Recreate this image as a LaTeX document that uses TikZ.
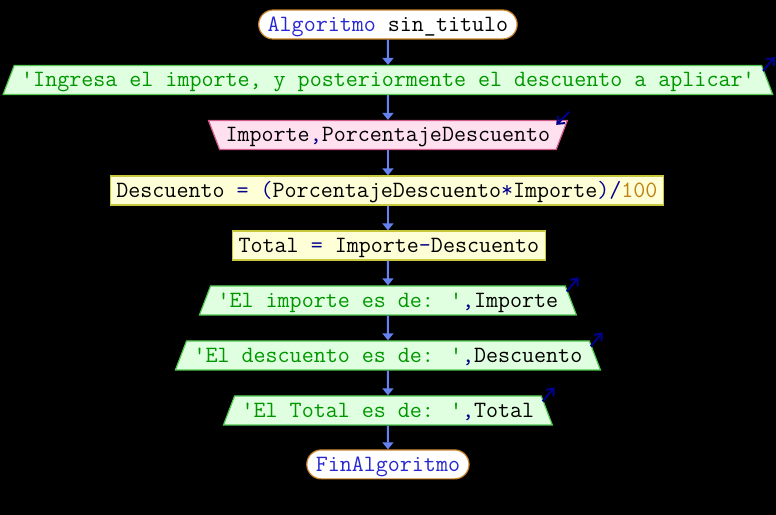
\documentclass[tikz,border=0pt]{standalone}
\usetikzlibrary{shapes.geometric,arrows.meta}
\definecolor{conblue}{RGB}{100,130,240}
\definecolor{termline}{RGB}{200,130,40}
\definecolor{kwblue}{RGB}{40,40,210}
\definecolor{opnavy}{RGB}{0,0,140}
\definecolor{outfill}{RGB}{224,255,224}
\definecolor{outline}{RGB}{80,200,80}
\definecolor{strgreen}{RGB}{0,150,0}
\definecolor{infill}{RGB}{255,224,238}
\definecolor{inline}{RGB}{210,90,140}
\definecolor{procfill}{RGB}{255,255,215}
\definecolor{procline}{RGB}{200,200,60}
\definecolor{numbrown}{RGB}{190,130,20}
\def\clave#1{\textcolor{kwblue}{#1}}
\def\oper#1{\textcolor{opnavy}{#1}}
\def\cadena#1{\textcolor{strgreen}{\textquotesingle #1\textquotesingle}}
\def\numero#1{\textcolor{numbrown}{#1}}
\tikzset{
  caja/.style={inner ysep=4pt, text height=17.5pt, text depth=3.5pt, line width=1.2pt},
  terminal/.style={caja, rectangle, rounded corners=14.5pt, draw=termline, fill=white, inner xsep=9pt},
  salida/.style={caja, trapezium, trapezium left angle=69, trapezium right angle=69, draw=outline, fill=outfill, inner xsep=7pt},
  entrada/.style={caja, trapezium, trapezium left angle=111, trapezium right angle=111, draw=inline, fill=infill, inner xsep=6pt},
  proceso/.style={caja, rectangle, draw=procline, fill=procfill, inner xsep=6pt},
  flecha/.style={draw=conblue, line width=2pt, -{Triangle[length=7pt,width=11pt]}},
  icono/.style={draw=opnavy, line width=2pt, -{Straight Barb[length=6pt,width=10pt]}}
}
\begin{document}
\begin{tikzpicture}[x=1pt, y=1pt, font=\fontsize{23.35}{27}\selectfont\ttfamily]
  \fill[black] (0,0) rectangle (776,-515);

  \node[terminal] (inicio) at (388,-24.5) {\clave{Algoritmo} sin\_titulo};
  \node[salida] (msg) at (388,-80) {\cadena{Ingresa el importe, y posteriormente el descuento a aplicar}};
  \node[entrada] (leer) at (388,-135) {Importe\oper{,}PorcentajeDescuento};
  \node[proceso] (calc) at (387,-190.5) {Descuento \oper{=} \oper{(}PorcentajeDescuento\oper{*}Importe\oper{)/}\numero{100}};
  \node[proceso] (total) at (389,-245.5) {Total \oper{=} Importe\oper{-}Descuento};
  \node[salida] (verimp) at (388,-300.5) {\cadena{El importe es de: }\oper{,}Importe};
  \node[salida] (verdes) at (388,-355.5) {\cadena{El descuento es de: }\oper{,}Descuento};
  \node[salida] (vertot) at (388,-410.5) {\cadena{El Total es de: }\oper{,}Total};
  \node[terminal] (fin) at (388,-464.5) {\clave{FinAlgoritmo}};

  % conectores
  \draw[flecha] (inicio.south) -- (msg.north);
  \draw[flecha] (msg.south) -- (leer.north);
  \draw[flecha] (leer.south) -- (calc.north -| leer.south);
  \draw[flecha] (calc.south -| leer.south) -- (total.north -| leer.south);
  \draw[flecha] (total.south -| leer.south) -- (verimp.north);
  \draw[flecha] (verimp.south) -- (verdes.north);
  \draw[flecha] (verdes.south) -- (vertot.north);
  \draw[flecha] (vertot.south) -- (fin.north);

  % iconos de entrada/salida
  \foreach \n in {msg,verimp,verdes,vertot}
    \draw[icono] ([shift={(1pt,-6pt)}]\n.top right corner) -- +(12pt,14pt);
  \draw[icono] ([shift={(1pt,8pt)}]leer.top right corner) -- +(-13pt,-13pt);
\end{tikzpicture}
\end{document}
